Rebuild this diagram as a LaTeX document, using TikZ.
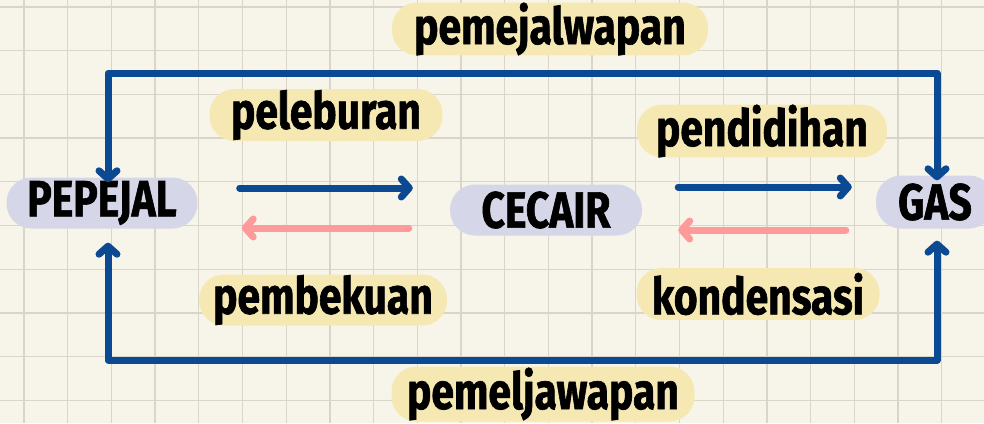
\documentclass[tikz,border=0pt]{standalone}
\usepackage{fontspec}
\usetikzlibrary{arrows.meta}
\newfontfamily\handfont{Fira Sans}[FakeStretch=0.8, BoldFeatures={FakeBold=1.2}]
\definecolor{paper}{HTML}{F7F5E9}
\definecolor{gridln}{HTML}{D9D6C9}
\definecolor{statebg}{HTML}{D5D6E8}
\definecolor{procbg}{HTML}{F6E8B2}
\definecolor{flowblue}{HTML}{0B4A92}
\definecolor{flowpink}{HTML}{FF9A9A}

\begin{document}
\begin{tikzpicture}[x=1pt, y=-1pt,
	every node/.style={font=\handfont\bfseries\fontsize{51}{51}\selectfont, text=black, inner sep=0pt},
	state/.style={rectangle, rounded corners=25pt, fill=statebg},
	proc/.style={rectangle, rounded corners=25pt, fill=procbg},
	tip/.style={-{Straight Barb[length=8pt, width=18pt, round]}},
	fwd/.style={tip, draw=flowblue, line width=7pt, line cap=round},
	back/.style={tip, draw=flowpink, line width=7pt, line cap=round},
	loopln/.style={{Straight Barb[length=8pt, width=18pt, round]}-{Straight Barb[length=8pt, width=18pt, round]}, draw=flowblue, line width=7pt, line join=round}]
	\fill[paper] (0,0) rectangle (984,423);
	\useasboundingbox (0,0) rectangle (984,423);
	\foreach \i in {0,...,22} \draw[gridln, line width=1.3pt] (24+43.7*\i,0) -- (24+43.7*\i,423);
	\foreach \j in {0,...,9} \draw[gridln, line width=1.3pt] (0,7+43.7*\j) -- (984,7+43.7*\j);

	\node[state, minimum width=191pt, minimum height=51pt] (pepejal) at (102,203) {PEPEJAL};
	\node[state, minimum width=192pt, minimum height=51pt] (cecair) at (546,210) {CECAIR};
	\node[state, minimum width=118pt, minimum height=53pt] (gas) at (935,202) {GAS};

	\node[proc, minimum width=233pt, minimum height=52pt] (lebur) at (326,115) {peleburan};
	\node[proc, minimum width=248pt, minimum height=51pt] (beku) at (323,300) {pembekuan};
	\node[proc, minimum width=250pt, minimum height=51pt] (didih) at (762,131) {pendidihan};
	\node[proc, minimum width=243pt, minimum height=52pt] (kondens) at (758,294) {kondensasi};
	\node[proc, minimum width=316pt, minimum height=52pt] (mejal) at (550,29) {pemejalwapan};
	\node[proc, minimum width=303pt, minimum height=55pt] (melja) at (543,394) {pemeljawapan};

	\coordinate (topbar) at (520,73);
	\coordinate (botbar) at (520,360);

	\draw[fwd, shorten <=42pt, shorten >=37pt] ([yshift=15pt]pepejal.east) -- ([yshift=15pt]pepejal.east -| cecair.west);
	\draw[back, shorten <=41pt, shorten >=44pt] ([yshift=-18pt]cecair.west) -- ([yshift=-18pt]cecair.west -| pepejal.east);
	\draw[fwd, shorten <=36pt, shorten >=24pt] ([yshift=23pt]cecair.east) -- ([yshift=23pt]cecair.east -| gas.west);
	\draw[back, shorten <=30pt, shorten >=36pt] ([yshift=-28pt]gas.west) -- ([yshift=-28pt]gas.west -| cecair.east);

	\draw[loopln] ([xshift=6pt, yshift=-5pt]pepejal.north) |- (topbar) -| ([xshift=2pt, yshift=-5pt]gas.north);
	\draw[loopln] ([xshift=6pt, yshift=-14pt]pepejal.south) |- (botbar) -| ([xshift=2pt, yshift=-12pt]gas.south);
\end{tikzpicture}
\end{document}
